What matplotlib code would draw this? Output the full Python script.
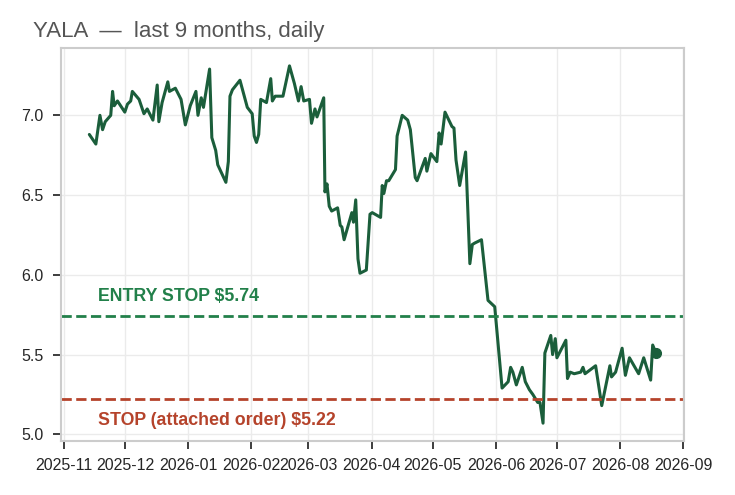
import pandas as pd
import matplotlib
matplotlib.use("Agg")
import matplotlib.pyplot as plt
import matplotlib.dates as mdates
import matplotlib.transforms as mtransforms
import seaborn as sns

# Days since 2025-11-01 and closing price
days = [
    12.5, 15.7, 17.7, 19.0, 20.3, 23.0, 23.9, 24.7, 26.3, 29.9,
    31.2, 32.8, 33.6, 36.9, 39.3, 40.9, 43.7, 45.8, 46.6, 48.2,
    51.0, 51.8, 54.7, 57.5, 59.6, 62.0, 64.8, 65.8, 67.4, 68.5,
    71.5, 72.6, 74.5, 75.5, 79.5, 80.7, 81.5, 82.7, 86.4, 90.0,
    92.4, 93.4, 94.5, 95.6, 96.6, 99.4, 101.5, 102.3, 103.7, 107.5,
    110.7, 113.1, 115.1, 116.4, 117.7, 120.5, 121.5, 123.2, 124.2, 127.5,
    128.1, 129.1, 130.2, 131.4, 134.3, 135.6, 136.4, 137.5, 141.3, 142.1,
    143.2, 144.3, 145.3, 148.4, 150.2, 151.3, 155.4, 156.2, 157.0, 158.3,
    159.4, 162.7, 163.5, 166.0, 168.7, 170.0, 172.4, 173.3, 177.3, 178.1,
    180.1, 183.0, 184.1, 185.1, 187.0, 190.4, 191.4, 192.4, 194.2, 197.1,
    199.2, 200.4, 201.7, 204.9, 208.1, 211.4, 215.0, 218.0, 219.2, 220.3,
    222.0, 224.9, 226.4, 228.4, 230.1, 232.5, 233.6, 235.1, 236.0, 238.9,
    239.8, 241.1, 241.9, 246.3, 247.1, 248.4, 250.4, 253.6, 254.7, 255.7,
    260.9, 263.9, 267.9, 268.7, 270.7, 273.9, 275.5, 277.5, 282.0, 284.5,
    287.9, 288.9, 290.5,
]
prices = [
    6.88, 6.82, 7.00, 6.91, 6.96, 7.00, 7.15, 7.06, 7.09, 7.02,
    7.07, 7.09, 7.15, 7.10, 7.01, 7.04, 6.97, 7.19, 6.96, 7.08,
    7.21, 7.15, 7.17, 7.10, 6.94, 7.06, 7.15, 7.00, 7.11, 7.05,
    7.29, 6.86, 6.78, 6.69, 6.58, 6.71, 7.12, 7.16, 7.22, 7.05,
    7.01, 6.87, 6.83, 6.88, 7.10, 7.08, 7.23, 7.09, 7.12, 7.12,
    7.31, 7.20, 7.09, 7.18, 7.09, 7.10, 6.95, 7.04, 6.99, 7.11,
    6.52, 6.57, 6.43, 6.40, 6.42, 6.31, 6.30, 6.22, 6.39, 6.33,
    6.47, 6.10, 6.01, 6.03, 6.38, 6.39, 6.36, 6.56, 6.51, 6.59,
    6.59, 6.66, 6.87, 7.00, 6.97, 6.91, 6.61, 6.59, 6.73, 6.65,
    6.76, 6.71, 6.89, 6.82, 7.02, 6.93, 6.92, 6.72, 6.56, 6.77,
    6.07, 6.19, 6.20, 6.22, 5.84, 5.80, 5.29, 5.33, 5.42, 5.39,
    5.31, 5.42, 5.33, 5.28, 5.25, 5.20, 5.20, 5.07, 5.51, 5.62,
    5.50, 5.60, 5.48, 5.59, 5.35, 5.39, 5.38, 5.39, 5.42, 5.38,
    5.43, 5.18, 5.43, 5.36, 5.39, 5.54, 5.37, 5.48, 5.38, 5.48,
    5.34, 5.56, 5.51,
]
start = pd.Timestamp("2025-11-01")
dates = start + pd.to_timedelta(days, unit="D")

entry_stop = 5.74
attached_stop = 5.22

line_color = "#1b5e3b"
entry_color = "#22804a"
stop_color = "#b5432b"

sns.set_theme(style="ticks")
plt.rcParams["font.family"] = ["Liberation Sans", "DejaVu Sans"]
plt.rcParams["axes.edgecolor"] = "#cccccc"
plt.rcParams["axes.linewidth"] = 1.5

fig, ax = plt.subplots(figsize=(7.35, 4.95), dpi=100)
fig.subplots_adjust(left=0.083, right=0.931, top=0.903, bottom=0.109)

ax.grid(True, color="#ebebeb", linewidth=1.0)
ax.set_axisbelow(True)

# Price line and latest point
ax.plot(dates, prices, color=line_color, linewidth=2.2)
ax.plot(dates[-1], prices[-1], "o", color=line_color, markersize=7)

# Stop levels
ax.axhline(entry_stop, color=entry_color, linestyle="--", linewidth=2)
ax.axhline(attached_stop, color=stop_color, linestyle="--", linewidth=2)

trans = mtransforms.blended_transform_factory(ax.transAxes, ax.transData)
ax.text(0.059, entry_stop + 0.125, f"ENTRY STOP ${entry_stop:.2f}",
        transform=trans, color=entry_color, fontsize=12.8,
        fontweight="bold", va="center", ha="left")
ax.text(0.059, attached_stop - 0.132, f"STOP (attached order) ${attached_stop:.2f}",
        transform=trans, color=stop_color, fontsize=12.8,
        fontweight="bold", va="center", ha="left")

ax.xaxis.set_major_locator(mdates.MonthLocator())
ax.xaxis.set_major_formatter(mdates.DateFormatter("%Y-%m"))
ax.tick_params(axis="both", labelsize=11.5, colors="#262626",
               length=6, width=1.25, pad=6.5)

fig.text(33 / 735, 1 - 32 / 495, "YALA  \u2014  last 9 months, daily",
         fontsize=16, color="#555555", va="center", ha="left")

fig.savefig("out.png", dpi=100)
